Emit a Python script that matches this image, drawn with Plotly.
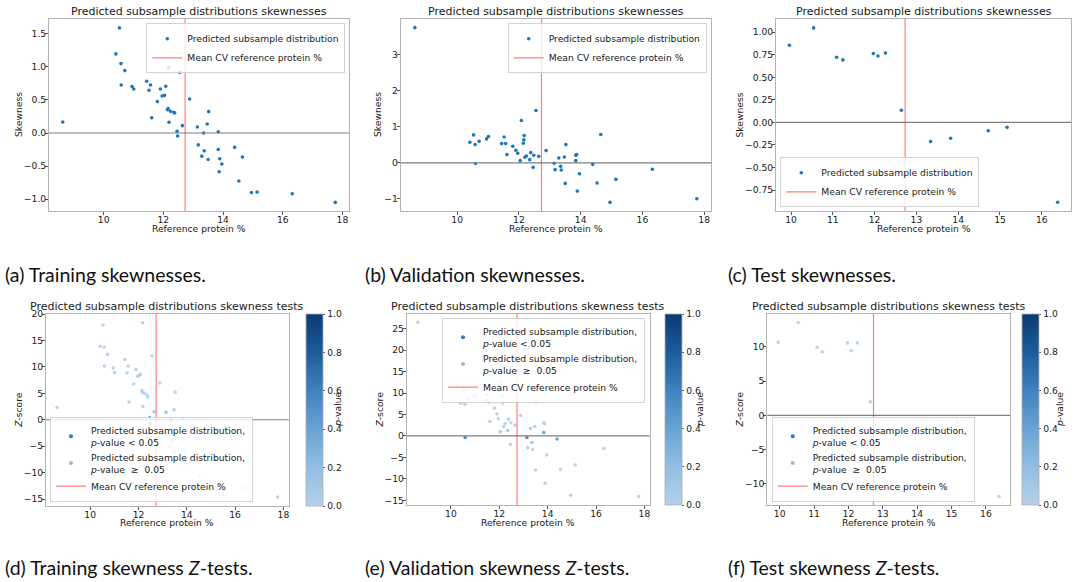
import plotly.graph_objects as go

W, H = 1075, 582

# ---------------- data ----------------
protein_trainval = [8.63, 10.41, 10.53, 10.58, 10.59, 10.71, 10.95, 11.01, 11.44, 11.52,
                    11.57, 11.61, 11.80, 11.90, 11.96, 12.04, 12.08, 12.14, 12.16, 12.17,
                    12.19, 12.24, 12.35, 12.38, 12.46, 12.48, 12.55, 12.64, 12.88, 13.14,
                    13.17, 13.29, 13.35, 13.37, 13.47, 13.50, 13.52, 13.84, 13.84, 13.87,
                    13.89, 13.96, 14.39, 14.53, 14.65, 14.95, 15.14, 16.32, 17.76]
skew_train = [0.167, 1.197, 1.59, 1.05, 0.727, 0.944, 0.702, 0.667, 0.783, 0.646,
              0.727, 0.232, 0.475, 0.667, 0.56, 0.57, 0.707, 0.354, 0.369, 0.99,
              0.162, 0.328, 0.313, 0.303, 0.025, -0.045, 0.919, 0.111, 0.515, 0.091,
              -0.18, -0.35, 0.0, -0.27, 0.136, -0.40, 0.323, 0.02, -0.25, -0.586,
              -0.39, -0.47, -0.217, -0.727, -0.364, -0.899, -0.894, -0.919, -1.05]
skew_val = [3.76, 0.572, 0.777, 0.507, -0.02, 0.60, 0.665, 0.73, 0.535, 0.72,
            0.535, 0.228, 0.46, 0.349, 0.265, 0.06, 1.177, 0.544, 0.637, 0.758,
            0.153, 0.19, 0.088, 0.284, -0.126, 0.209, 1.456, 0.181, 0.34, -0.014,
            -0.19, 0.135, -0.098, -0.2, 0.163, -0.572, 0.507, 0.06, 0.209, 0.228,
            -0.786, -0.302, -0.042, -0.563, 0.786, -1.10, -0.46, -0.18, -1.0]
z_train = [2.33, 13.9, 17.9, 13.75, 10.15, 12.36, 9.77, 8.95, 11.41, 8.83,
           10.15, 3.34, 6.75, 9.52, 8.2, 8.39, 8.58, 5.55, 5.1, 18.35,
           2.52, 5.04, 4.73, 4.29, 0.38, -0.69, 12.1, 1.51, 6.94, 1.39,
           -2.7, -5.0, 0.0, -4.0, 1.9, -5.9, 5.23, 0.25, -3.8, -8.3,
           -5.8, -8.0, -3.4, -10.5, -5.5, -11.8, -11.8, -12.9, -14.6]
p_train = [0.02, 0.0, 0.0, 0.0, 0.0, 0.0, 0.0, 0.0, 0.0, 0.0,
           0.0, 0.0, 0.0, 0.0, 0.0, 0.0, 0.0, 0.0, 0.0, 0.0,
           0.01, 0.0, 0.0, 0.0, 0.55, 0.5, 0.0, 0.12, 0.0, 0.15,
           0.01, 0.0, 0.6, 0.0, 0.06, 0.0, 0.0, 0.55, 0.0, 0.0,
           0.0, 0.0, 0.0, 0.0, 0.0, 0.0, 0.0, 0.0, 0.0]
z_val = [26.5, 7.65, 10.58, 7.33, -0.35, 8.49, 9.28, 9.58, 8.35, 9.65,
         7.79, 3.37, 6.49, 5.16, 4.0, 0.98, 12.67, 7.72, 7.9, 9.2,
         2.2, 2.9, 1.28, 3.93, -1.98, 3.14, 16.5, 2.53, 4.77, -0.35,
         -2.74, 1.74, -1.51, -3.14, 2.21, -7.93, 7.95, 0.81, 3.07, 2.85,
         -11.05, -4.44, -0.72, -7.79, 10.81, -13.84, -6.77, -2.91, -14.14]
p_val = [0.0, 0.0, 0.0, 0.0, 0.6, 0.0, 0.0, 0.0, 0.0, 0.0,
         0.0, 0.0, 0.0, 0.0, 0.0, 0.15, 0.0, 0.0, 0.0, 0.0,
         0.03, 0.0, 0.12, 0.0, 0.05, 0.0, 0.0, 0.01, 0.0, 0.6,
         0.01, 0.08, 0.13, 0.0, 0.03, 0.0, 0.0, 0.45, 0.0, 0.0,
         0.0, 0.0, 0.45, 0.0, 0.0, 0.0, 0.0, 0.0, 0.0]
protein_test = [9.96, 10.54, 11.09, 11.24, 11.97, 12.08, 12.26, 12.64, 13.34, 13.82,
                14.72, 15.17, 16.38]
skew_test = [0.856, 1.048, 0.722, 0.693, 0.763, 0.737, 0.770, 0.134, -0.213, -0.176,
             -0.092, -0.055, -0.886]
z_test = [10.68, 13.54, 9.95, 9.27, 10.58, 9.47, 10.58, 1.99, -3.4, -2.77,
          -1.51, -0.93, -11.85]
p_test = [0.0, 0.0, 0.0, 0.0, 0.0, 0.0, 0.0, 0.05, 0.0, 0.01,
          0.1, 0.12, 0.0]
mean_cv_protein = 12.73

captions = ["(a) Training skewnesses.", "(b) Validation skewnesses.", "(c) Test skewnesses.",
            "(d) Training skewness <i>Z</i>-tests.", "(e) Validation skewness <i>Z</i>-tests.",
            "(f) Test skewness <i>Z</i>-tests."]

# ---------------- layout helpers ----------------
FONT = "DejaVu Sans"
FS = 9.2
TXT = "#1a1a1a"

def fx(p):
    return p / W

def fy(p):
    return 1 - p / H

# plot areas in pixels: left, right, top, bottom
boxes = [
    (49, 349, 19, 211),
    (400.7, 711, 19, 211),
    (776, 1071, 19, 211),
    (46, 288.7, 314, 505.7),
    (406.7, 649.7, 314, 505),
    (767.3, 1010, 314, 505),
]
xranges = [[8.17, 18.22], [8.17, 18.22], [9.64, 16.70],
           [8.17, 18.22], [8.17, 18.22], [9.64, 16.70]]
yranges = [[-1.18, 1.725], [-1.34, 4.0], [-0.983, 1.147],
           [-16.25, 20.0], [-16.1, 28.45], [-13.1, 14.8]]
xticks = [[10, 12, 14, 16, 18], [10, 12, 14, 16, 18], [10, 11, 12, 13, 14, 15, 16],
          [10, 12, 14, 16, 18], [10, 12, 14, 16, 18], [10, 11, 12, 13, 14, 15, 16]]
yticks = [dict(tickvals=[-1.0, -0.5, 0.0, 0.5, 1.0, 1.5], tickformat=".1f"),
          dict(tickvals=[-1, 0, 1, 2, 3], tickformat="d"),
          dict(tickvals=[-0.75, -0.5, -0.25, 0, 0.25, 0.5, 0.75, 1.0], tickformat=".2f"),
          dict(tickvals=[-15, -10, -5, 0, 5, 10, 15, 20], tickformat="d"),
          dict(tickvals=[-15, -10, -5, 0, 5, 10, 15, 20, 25], tickformat="d"),
          dict(tickvals=[-10, -5, 0, 5, 10], tickformat="d")]

fig = go.Figure()
layout = dict(width=W, height=H, margin=dict(l=0, r=0, t=0, b=0, autoexpand=False),
              paper_bgcolor="white", plot_bgcolor="white", showlegend=True,
              font=dict(family=FONT, size=FS, color=TXT))

axis_common = dict(showline=True, mirror=True, linecolor="#b3b3b3", linewidth=1,
                   ticks="outside", ticklen=3, tickwidth=0.8, tickcolor="#555",
                   ticklabelstandoff=-3,
                   showgrid=False, zeroline=False,
                   tickfont=dict(family=FONT, size=FS, color=TXT))

annotations = []
shapes = []

for i, (l, r, t, b) in enumerate(boxes):
    k = "" if i == 0 else str(i + 1)
    layout["xaxis" + k] = dict(axis_common, domain=[fx(l), fx(r)], anchor="y" + k,
                               range=xranges[i], tickvals=xticks[i])
    layout["yaxis" + k] = dict(axis_common, domain=[fy(b), fy(t)], anchor="x" + k,
                               range=yranges[i], **yticks[i])
    title = ("Predicted subsample distributions skewnesses" if i < 3
             else "Predicted subsample distributions skewness tests")
    annotations.append(dict(text=title, x=fx((l + r) / 2), y=fy(t), xref="paper", yref="paper",
                            xanchor="center", yanchor="bottom", yshift=-1, showarrow=False,
                            font=dict(family=FONT, size=11, color=TXT)))
    annotations.append(dict(text="Reference protein %", x=fx((l + r) / 2),
                            y=fy(229 if i < 3 else 522), xref="paper", yref="paper",
                            xanchor="center", yanchor="middle", showarrow=False,
                            font=dict(family=FONT, size=FS, color=TXT)))
    ylab_x = [19, 378, 739.5, 19, 379, 739][i]
    annotations.append(dict(text="Skewness" if i < 3 else "<i>Z</i>-score",
                            x=fx(ylab_x), y=fy((t + b) / 2), xref="paper", yref="paper",
                            xanchor="center", yanchor="middle", textangle=-90, showarrow=False,
                            font=dict(family=FONT, size=FS, color=TXT)))
    # zero line
    shapes.append(dict(type="line", xref="x%s domain" % k, yref="y" + k, x0=0, x1=1, y0=0, y1=0,
                       line=dict(color="#7f7f7f", width=1.2), layer="above"))

# legends (pixel boxes from the reference)
legend_pos = [
    dict(x=fx(345.3), xanchor="right", y=fy(23.3), yanchor="top"),
    dict(x=fx(706.7), xanchor="right", y=fy(23.3), yanchor="top"),
    dict(x=fx(780.3), xanchor="left", y=fy(207.3), yanchor="bottom"),
    dict(x=fx(50), xanchor="left", y=fy(501.7), yanchor="bottom"),
    dict(x=fx(645), xanchor="right", y=fy(317.7), yanchor="top"),
    dict(x=fx(771.7), xanchor="left", y=fy(501.7), yanchor="bottom"),
]
for i, pos in enumerate(legend_pos):
    k = "legend" if i == 0 else "legend%d" % (i + 1)
    layout[k] = dict(pos, bgcolor="rgba(255,255,255,0.8)", bordercolor="#d3d3d3", borderwidth=1,
                     font=dict(family=FONT, size=FS, color=TXT), itemwidth=30,
                     tracegroupgap=0, traceorder="normal")

BLUE = "#1f77b4"
skews = [(protein_trainval, skew_train), (protein_trainval, skew_val), (protein_test, skew_test)]
for i, (xs, ys) in enumerate(skews):
    k = "" if i == 0 else str(i + 1)
    lg = "legend" if i == 0 else "legend%d" % (i + 1)
    fig.add_trace(go.Scatter(x=xs, y=ys, mode="markers", name="Predicted subsample distribution",
                             marker=dict(color=BLUE, size=3.6), xaxis="x" + k, yaxis="y" + k,
                             legend=lg, cliponaxis=False))

cscale = [[0.0, "#b4d1ea"], [0.2, "#93bee2"], [0.4, "#68a3d4"], [0.6, "#3f82c0"],
          [0.8, "#1d5c9c"], [1.0, "#0b3a74"]]
zsets = [(protein_trainval, z_train, p_train), (protein_trainval, z_val, p_val),
         (protein_test, z_test, p_test)]
cb_x = [306, 665, 1022.3]
cb_lab_x = [338, 699.5, 1059.5]
for j, (xs, zs, ps) in enumerate(zsets):
    i = j + 3
    k = str(i + 1)
    lg = "legend%d" % (i + 1)
    l, r, t, b = boxes[i]
    fig.add_trace(go.Scatter(
        x=xs, y=zs, mode="markers", showlegend=False, xaxis="x" + k, yaxis="y" + k,
        marker=dict(color=ps, colorscale=cscale, cmin=0, cmax=1, size=3.6, opacity=0.9,
                    showscale=True,
                    colorbar=dict(x=fx(cb_x[j]), xanchor="left", xpad=0, y=fy(t), yanchor="top",
                                  ypad=0, len=(b - t) / H, lenmode="fraction", thickness=17,
                                  thicknessmode="pixels", outlinecolor="#b0b0b0", outlinewidth=0.8,
                                  tickvals=[0, 0.2, 0.4, 0.6, 0.8, 1.0], tickformat=".1f",
                                  ticks="outside", ticklen=2.5, tickcolor="#555",
                                  tickfont=dict(family=FONT, size=FS, color=TXT)))))
    fig.add_trace(go.Scatter(x=[None], y=[None], mode="markers", xaxis="x" + k, yaxis="y" + k,
                             name="Predicted subsample distribution,<br><i>p</i>-value < 0.05",
                             marker=dict(color="#3479ba", size=4), legend=lg))
    fig.add_trace(go.Scatter(x=[None], y=[None], mode="markers", xaxis="x" + k, yaxis="y" + k,
                             name="Predicted subsample distribution,<br><i>p</i>-value  ≥  0.05",
                             marker=dict(color="#8fbde2", size=4), legend=lg))
    annotations.append(dict(text="<i>p</i>-value", x=fx(cb_lab_x[j]), y=fy((t + b) / 2),
                            xref="paper", yref="paper", xanchor="center", yanchor="middle",
                            textangle=-90, showarrow=False,
                            font=dict(family=FONT, size=FS, color=TXT)))

# mean CV reference protein lines (in legends)
for i in range(6):
    k = "" if i == 0 else str(i + 1)
    lg = "legend" if i == 0 else "legend%d" % (i + 1)
    shapes.append(dict(type="line", xref="x" + k, yref="y%s domain" % k,
                       x0=mean_cv_protein, x1=mean_cv_protein, y0=0, y1=1,
                       line=dict(color="rgba(255,0,0,0.5)", width=1.2), layer="above",
                       showlegend=True, name="Mean CV reference protein %", legend=lg))

# captions
cap_pos = [(3, 274), (363, 274), (726, 274), (3, 567), (363, 567), (726, 567)]
for txt, (cx, cy) in zip(captions, cap_pos):
    annotations.append(dict(text=txt, x=fx(cx), y=fy(cy), xref="paper", yref="paper",
                            xanchor="left", yanchor="middle", showarrow=False,
                            font=dict(family="Lato", size=19.5, color="#111")))

layout["annotations"] = annotations
layout["shapes"] = shapes
fig.update_layout(**layout)
fig.write_html("out.html")
